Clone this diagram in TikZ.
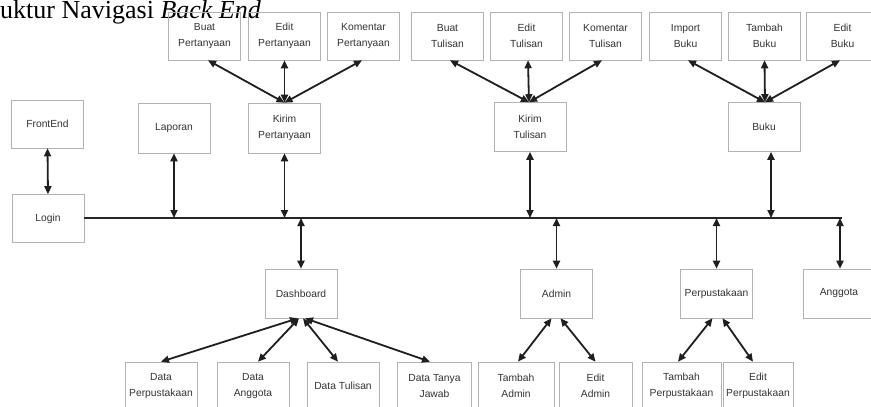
\documentclass[tikz,border=0pt]{standalone}
\usepackage{fontspec}
\setmainfont{Liberation Sans}
\newfontfamily\titlefont{Liberation Serif}
\usetikzlibrary{arrows.meta,calc}
\begin{document}
\begin{tikzpicture}[x=1pt,y=-1pt,
  box/.style={draw=black!30, line width=0.6pt, inner sep=0pt, minimum width=72pt, minimum height=48pt,
    align=center, text=black!80, font=\fontsize{10.3}{16.5}\selectfont},
  arr/.style={draw=black!88, line width=1.8pt, {Triangle[length=8pt,width=7pt]}-{Triangle[length=8pt,width=7pt]}},
  mainline/.style={draw=black!85, line width=2.5pt}]
\useasboundingbox (0,0) rectangle (871,407);
\fill[white] (0,0) rectangle (871,407);
\node[anchor=base west, inner sep=0pt, font=\titlefont\fontsize{26}{30}\selectfont] (title) at (0,18) {uktur Navigasi \textit{Back End}};
% top row
\node[box] (bp) at (204.5,36) {Buat\\Pertanyaan};
\node[box] (ep) at (284.5,36) {Edit\\Pertanyaan};
\node[box] (kp) at (363.5,36) {Komentar\\Pertanyaan};
\node[box] (bt) at (447.5,36) {Buat\\Tulisan};
\node[box] (et) at (526.5,36) {Edit\\Tulisan};
\node[box] (kt) at (605.5,36) {Komentar\\Tulisan};
\node[box] (ib) at (685.5,36) {Import\\Buku};
\node[box] (tb) at (764.5,36) {Tambah\\Buku};
\node[box] (eb) at (842.5,36) {Edit\\Buku};
% middle row
\node[box] (fe) at (47.5,124) {FrontEnd};
\node[box, minimum height=50pt] (lap) at (174,128) {Laporan};
\node[box, minimum height=50pt] (kirp) at (284.5,128) {Kirim\\Pertanyaan};
\node[box, minimum height=49pt] (kirt) at (530,127) {Kirim\\Tulisan};
\node[box, minimum height=49pt] (buku) at (764,127) {Buku};
\node[box] (login) at (48,218.5) {Login};
% lower row
\node[box, minimum height=49pt] (dash) at (301,293.5) {Dashboard};
\node[box, minimum height=49pt] (admin) at (556.5,293.5) {Admin};
\node[box, minimum height=49pt] (perp) at (716.5,293.5) {Perpustakaan};
\node[box, minimum height=49pt] (angg) at (839,293.5) {Anggota};
% bottom row
\node[box] (dp) at (161,386) {Data\\Perpustakaan};
\node[box] (da) at (253,386) {Data\\Anggota};
\node[box] (dt) at (343,386) {Data Tulisan};
\node[box, minimum width=74pt] (dtj) at (434.5,386) {Data Tanya\\Jawab};
\node[box, minimum width=76pt] (ta) at (516,386) {Tambah\\Admin};
\node[box, minimum width=73pt] (ea) at (595.5,386) {Edit\\Admin};
\node[box, minimum width=79pt] (tp) at (681.5,386) {Tambah\\Perpustakaan};
\node[box, minimum width=70pt] (epus) at (758,386) {Edit\\Perpustakaan};
% main line
\coordinate (ml) at (0,218);
\coordinate (lineEnd) at (842,218);
\draw[mainline] (login.east |- ml) -- (lineEnd);
% vertical arrows
\draw[arr] (fe.south) -- (login.north);
\draw[arr] (lap.south) -- (lap.south |- ml);
\draw[arr] (kirp.south) -- (kirp.south |- ml);
\draw[arr] (dash.north |- ml) -- (dash.north);
\draw[arr] (kirt.south) -- (kirt.south |- ml);
\draw[arr] (admin.north |- ml) -- (admin.north);
\draw[arr] (perp.north |- ml) -- (perp.north);
\draw[arr] ($(buku.south)+(7,0)$) -- ($(buku.south |- ml)+(7,0)$);
\draw[arr] ($(angg.north |- ml)+(1,0)$) -- ($(angg.north)+(1,0)$);
% top groups
\draw[arr] (kirp.north) -- ($(bp.south)+(3.5,0)$);
\draw[arr] (kirp.north) -- (ep.south);
\draw[arr] (kirp.north) -- ($(kp.south)+(-1.5,0)$);
\draw[arr] ($(kirt.north)+(-1,0)$) -- ($(bt.south)+(2.5,0)$);
\draw[arr] ($(kirt.north)+(-1,0)$) -- ($(et.south)+(1.5,0)$);
\draw[arr] ($(kirt.north)+(-1,0)$) -- ($(kt.south)+(-3.5,0)$);
\draw[arr] ($(buku.north)+(1,0)$) -- ($(ib.south)+(2.5,0)$);
\draw[arr] ($(buku.north)+(1,0)$) -- (tb.south);
\draw[arr] ($(buku.north)+(1,0)$) -- ($(eb.south)+(-2.5,0)$);
% dashboard group
\draw[arr] ($(dash.south)+(-3,0)$) -- (dp.north);
\draw[arr] ($(dash.south)+(-2,0)$) -- ($(da.north)+(5,0)$);
\draw[arr] ($(dash.south)+(2,0)$) -- ($(dt.north)+(-5,0)$);
\draw[arr] ($(dash.south)+(4,0)$) -- ($(dtj.north)+(-4.5,0)$);
% admin group
\draw[arr] ($(admin.south)+(-5,0)$) -- ($(ta.north)+(2,0)$);
\draw[arr] ($(admin.south)+(4,0)$) -- (ea.north);
% perpustakaan group
\draw[arr] ($(perp.south)+(-4,0)$) -- ($(tp.north)+(-3.5,0)$);
\draw[arr] ($(perp.south)+(6,0)$) -- ($(epus.north)+(-5,0)$);
\end{tikzpicture}
\end{document}
